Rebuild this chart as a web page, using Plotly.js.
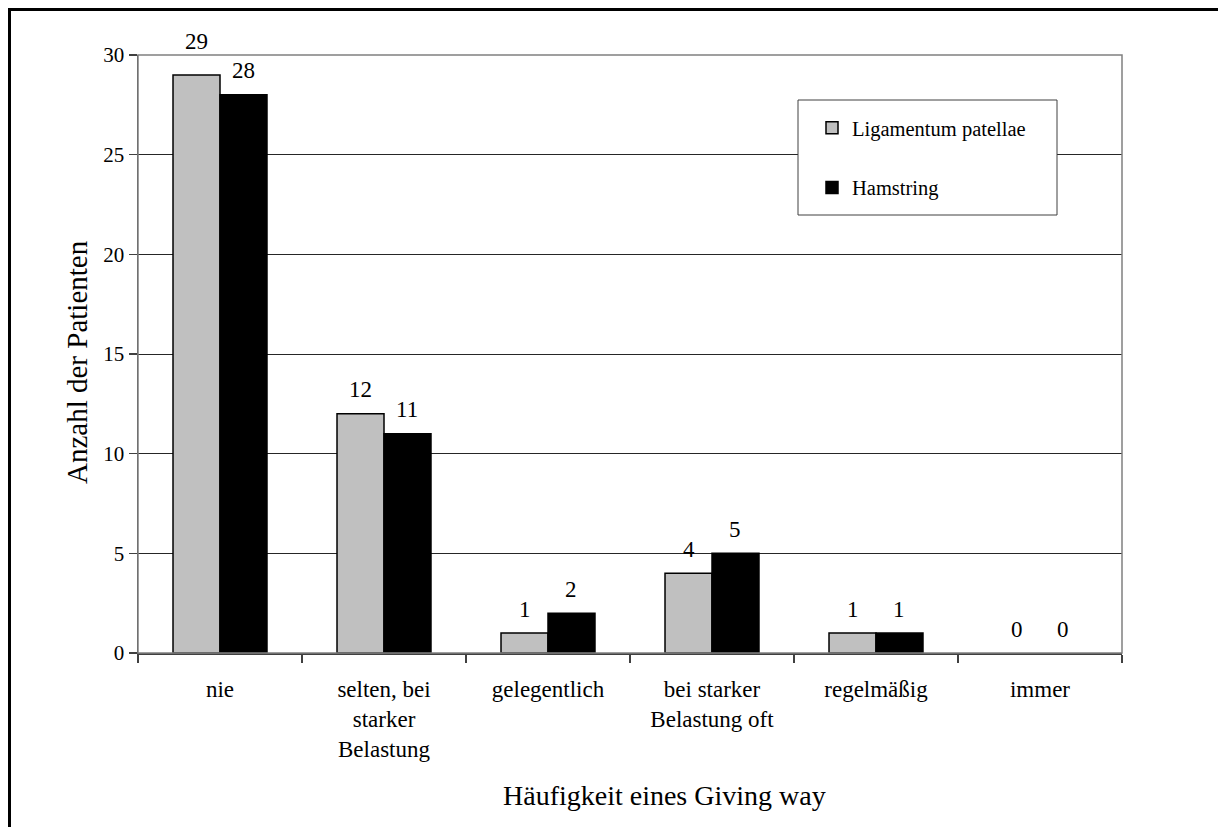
<!DOCTYPE html>
<html>
<head>
<meta charset="utf-8">
<script src="https://cdn.plot.ly/plotly-3.0.1.min.js"></script>
<style>
  html, body { margin: 0; padding: 0; background: #fff; overflow: hidden; }
  #wrap { position: relative; width: 1218px; height: 827px; overflow: hidden; }
  #chart { position: absolute; left: 0; top: 0; width: 1218px; height: 827px; }
  /* page frame: only its top and left edges fall inside the view */
  #frame { position: absolute; left: 8px; top: 8px; width: 1400px; height: 1000px;
           border-top: 3px solid #000; border-left: 3px solid #000; pointer-events: none; }
</style>
</head>
<body>
<div id="wrap">
  <div id="chart"></div>
  <div id="frame"></div>
</div>
<script>
// Häufigkeit eines Giving way nach Transplantat
const categories = [
  'nie',
  'selten, bei<br>starker<br>Belastung',
  'gelegentlich',
  'bei starker<br>Belastung oft',
  'regelmäßig',
  'immer'
];
const seriesNames = ['Ligamentum patellae', 'Hamstring'];
const patellaValues = [29, 12, 1, 4, 1, 0];
const hamstringValues = [28, 11, 2, 5, 1, 0];
const yTickValues = [0, 5, 10, 15, 20, 25, 30];

const serif = "'Liberation Serif', 'Times New Roman', serif";
const bargap = 0.427;
const W = 1218, H = 827;
const M = { l: 138, r: 96, t: 55, b: 174 };

const series = [
  { name: seriesNames[0], values: patellaValues, fill: '#c0c0c0' },
  { name: seriesNames[1], values: hamstringValues, fill: '#000000' }
];

const traces = series.map((s, i) => ({
  type: 'bar',
  name: s.name,
  x: categories,
  y: s.values,
  legendgroup: 'g' + i,
  marker: {
    color: s.fill,
    // empty bars get no outline
    line: { color: '#000', width: s.values.map(v => (v === 0 ? 0 : 1.5)) }
  },
  hoverinfo: 'x+y'
}));

// paper-space helpers for the legend box and the axis titles
const px = x => (x - M.l) / (W - M.l - M.r);
const py = y => (H - M.b - y) / (H - M.t - M.b);

// value labels above each bar, placed at the bar centre in axis units
const annotations = [];
series.forEach((s, si) => {
  const off = (si - 0.5) * (1 - bargap) / 2;
  s.values.forEach((v, ci) => {
    annotations.push({
      xref: 'x', yref: 'y',
      x: ci + off, y: v,
      text: String(v),
      showarrow: false,
      yanchor: 'middle',
      yshift: v >= 29 ? 33 : 24,
      font: { family: serif, size: 23, color: '#000' }
    });
  });
});

// axis titles
annotations.push({
  xref: 'paper', yref: 'paper',
  x: px(664), y: py(795),
  xanchor: 'center', yanchor: 'middle',
  text: 'Häufigkeit eines Giving way',
  showarrow: false,
  font: { family: serif, size: 28, color: '#000' }
});
annotations.push({
  xref: 'paper', yref: 'paper',
  x: px(77), y: py(362),
  xanchor: 'center', yanchor: 'middle',
  textangle: -90,
  text: 'Anzahl der Patienten',
  showarrow: false,
  font: { family: serif, size: 29, color: '#000' }
});

const shapes = [
  // plot area border
  { type: 'rect', xref: 'paper', yref: 'paper', layer: 'above',
    x0: 0, x1: 1, y0: 0, y1: 1,
    line: { color: '#808080', width: 1.5 }, fillcolor: 'rgba(0,0,0,0)' },
  // legend box
  { type: 'rect', xref: 'paper', yref: 'paper', layer: 'above',
    x0: px(798), x1: px(1057), y0: py(215), y1: py(100),
    line: { color: '#404040', width: 1 }, fillcolor: '#fff' }
];

const layout = {
  width: W, height: H,
  margin: M,
  paper_bgcolor: '#fff',
  plot_bgcolor: '#fff',
  barmode: 'group',
  bargap: bargap,
  bargroupgap: 0,
  font: { family: serif, color: '#000' },
  showlegend: true,
  legend: {
    x: px(812), y: py(108), xanchor: 'left', yanchor: 'top',
    bgcolor: 'rgba(0,0,0,0)', borderwidth: 0,
    traceorder: 'grouped', tracegroupgap: 30,
    font: { family: serif, size: 20.5, color: '#000' }
  },
  xaxis: {
    type: 'category',
    tickson: 'boundaries',
    ticks: 'outside', ticklen: 8, tickwidth: 1.5, tickcolor: '#404040',
    ticklabelstandoff: 15,
    showline: true, linecolor: '#404040', linewidth: 1.5,
    showgrid: false, zeroline: false,
    tickfont: { family: serif, size: 23, color: '#000' },
    fixedrange: true
  },
  yaxis: {
    range: [0, 30],
    tickvals: yTickValues,
    ticks: 'outside', ticklen: 8, tickwidth: 1.5, tickcolor: '#404040',
    showline: true, linecolor: '#404040', linewidth: 1.5,
    showgrid: true, gridcolor: '#262626', gridwidth: 1,
    zeroline: false,
    tickfont: { family: serif, size: 21, color: '#000' },
    fixedrange: true
  },
  annotations: annotations,
  shapes: shapes
};

Plotly.newPlot('chart', traces, layout, { displayModeBar: false, staticPlot: true });
</script>
</body>
</html>
